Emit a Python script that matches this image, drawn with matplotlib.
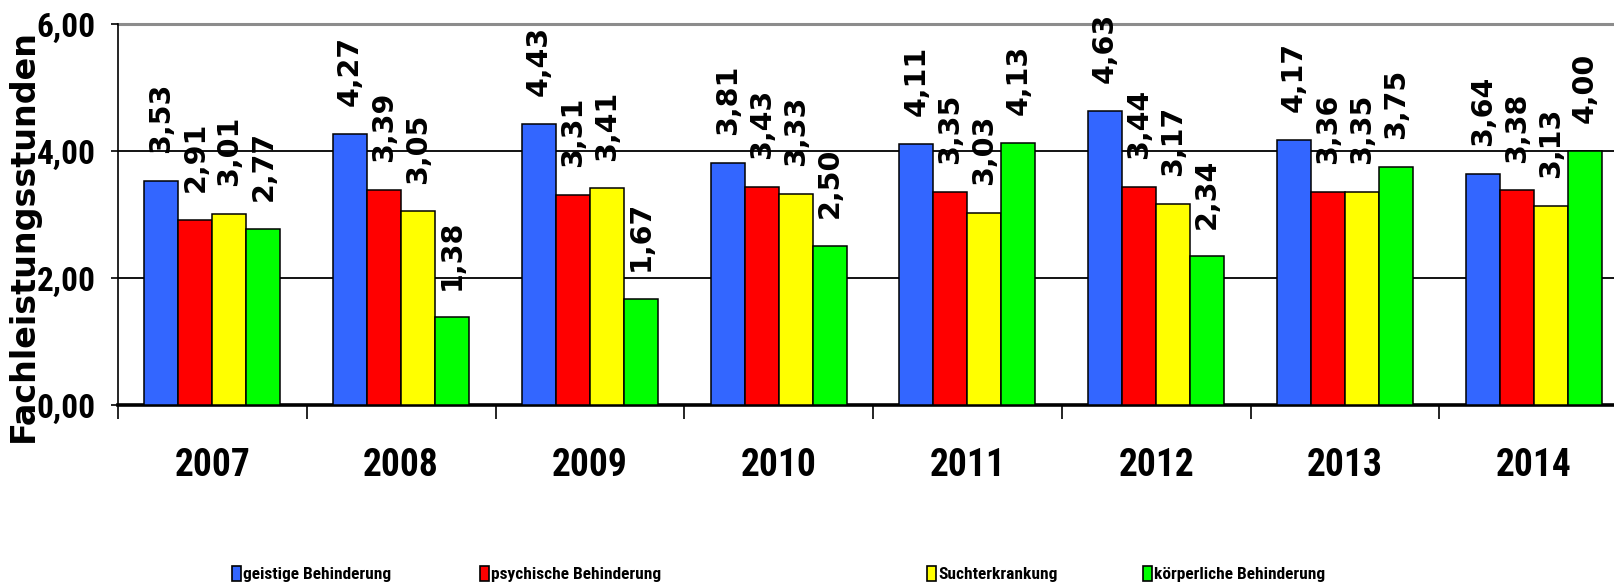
import os
import matplotlib
matplotlib.use('Agg')
import matplotlib.pyplot as plt
import numpy as np
from matplotlib.patches import Patch
from matplotlib import font_manager as fm

# data
years = ['2007', '2008', '2009', '2010', '2011', '2012', '2013', '2014']
series = ['geistige Behinderung', 'psychische Behinderung',
          'Suchterkrankung', 'körperliche Behinderung']
geistig = [3.53, 4.27, 4.43, 3.81, 4.11, 4.63, 4.17, 3.64]
psychisch = [2.91, 3.39, 3.31, 3.43, 3.35, 3.44, 3.36, 3.38]
sucht = [3.01, 3.05, 3.41, 3.33, 3.03, 3.17, 3.35, 3.13]
koerper = [2.77, 1.38, 1.67, 2.50, 4.13, 2.34, 3.75, 4.00]
yticks = [0, 2, 4, 6]

colors = ['#3366FF', '#FF0000', '#FFFF00', '#00FF00']


def narrow_bold():
    # look for a bold narrow/condensed face, the original uses Arial Narrow
    found = []
    for f in fm.fontManager.ttflist:
        b = os.path.basename(f.fname)
        if 'Italic' in b or 'Oblique' in b:
            continue
        if 'Bold' not in b or 'Semi' in b or 'Extra' in b:
            continue
        if 'Narrow' in b or 'Condensed' in b:
            found.append(f.fname)
    for key in ['LiberationSansNarrow', 'RobotoCondensed', 'NotoSans-Condensed',
                'OpenSans_Condensed', 'DejaVuSansCondensed']:
        for fn in found:
            if key in os.path.basename(fn):
                return fn
    return found[0] if found else None


nb = narrow_bold()
if nb:
    def NP(size):
        return fm.FontProperties(fname=nb, size=size)
    scale = 1.0
else:
    def NP(size):
        return fm.FontProperties(family='DejaVu Sans', weight='bold', size=size)
    scale = 0.8

W, H = 1614, 586
fig = plt.figure(figsize=(W / 100, H / 100), dpi=100)
# plot area runs past the right edge, like in the original
ax = fig.add_axes([118 / W, 1 - 405 / H, 1510 / W, 381 / H])

x = np.arange(len(years)) + 0.5
bw = 0.18
for k, vals in enumerate([geistig, psychisch, sucht, koerper]):
    pos = x - 0.36 + bw * (k + 0.5)
    ax.bar(pos, vals, bw, color=colors[k], edgecolor='black', linewidth=1.1, zorder=3)
    for p, v in zip(pos, vals):
        ax.annotate(f'{v:.2f}'.replace('.', ','), (p, v), xytext=(0, 20),
                    textcoords='offset points', rotation=90, ha='center', va='bottom',
                    fontsize=20.5, fontweight='bold', family='DejaVu Sans', zorder=4)

for yv in [2, 4]:
    ax.axhline(yv, color='black', lw=1.3, zorder=1)
ax.axhline(6, color='#8c8c8c', lw=2.2, zorder=1, clip_on=False)

ax.set_xlim(0, 8)
ax.set_ylim(0, 6)
ax.set_yticks(yticks)
ax.set_yticklabels([f'{t:.2f}'.replace('.', ',') for t in yticks],
                   fontproperties=NP(24 * scale))
ax.tick_params(axis='y', length=5, width=1.2, pad=11)

ax.set_xticks(x)
ax.set_xticklabels(years, fontproperties=NP(27 * scale))
ax.tick_params(axis='x', which='major', length=0, pad=30)
ax.set_xticks(np.arange(0, 9), minor=True)
ax.tick_params(axis='x', which='minor', length=10, width=1.2, direction='out')

for s in ['top', 'right']:
    ax.spines[s].set_visible(False)
ax.spines['bottom'].set_linewidth(2.6)
ax.spines['left'].set_linewidth(1.2)

fig.text(23 / W, 1 - 236 / H, 'Fachleistungsstunden', rotation=90, ha='center',
         va='center', fontsize=24, fontweight='bold', family='DejaVu Sans')

# legend entries are spaced unevenly, so each gets its own legend
leg_x = [232, 480, 927, 1143]
for k in range(4):
    h = Patch(facecolor=colors[k], edgecolor='black', linewidth=1.2)
    fig.legend([h], [series[k]], loc='center left',
               bbox_to_anchor=(leg_x[k] / W, 1 - 574 / H), frameon=False,
               borderpad=0, borderaxespad=0, handlelength=0.5, handleheight=0.95,
               handletextpad=0.15, prop=NP(12.5 * scale))

fig.savefig('out.png', dpi=100)
